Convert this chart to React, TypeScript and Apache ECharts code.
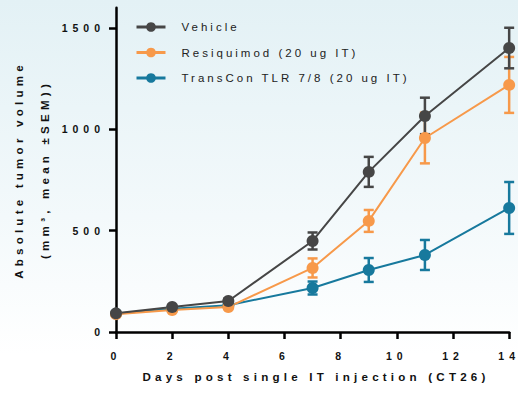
import React, { useEffect, useRef } from "react";
import * as echarts from "echarts";

const days = [0, 2, 4, 7, 9, 11, 14];
const vehicleMean = [92, 123, 153, 449, 790, 1066, 1401];
const vehicleSem = [8, 10, 12, 42, 74, 90, 100];
const resiquimodMean = [88, 108, 123, 316, 548, 957, 1219];
const resiquimodSem = [6, 8, 10, 47, 54, 125, 138];
const transconMean = [90, 115, 132, 217, 306, 380, 612];
const transconSem = [6, 8, 10, 32, 59, 74, 128];
const yTicks = [0, 500, 1000, 1500];
const seriesNames = ["Vehicle", "Resiquimod (20 ug IT)", "TransCon TLR 7/8 (20 ug IT)"];
const xTitle = "Days post single IT injection (CT26)";
const yTitle1 = "Absolute tumor volume";
const yTitle2 = "(mm³, mean ±SEM))";

const colors = ["#464646", "#F7994A", "#17799D"];

function errSeries(id: string, mean: number[], sem: number[], color: string) {
  return {
    type: "custom",
    name: id,
    silent: true,
    data: days.map((d, i) => [d, mean[i] - sem[i], mean[i] + sem[i]]),
    encode: { x: 0, y: [1, 2] },
    renderItem: (params: any, api: any) => {
      const x = api.value(0);
      const p1 = api.coord([x, api.value(1)]);
      const p2 = api.coord([x, api.value(2)]);
      const hw = 5;
      const style = { stroke: color, lineWidth: 2.5, fill: "none" };
      return {
        type: "group",
        children: [
          { type: "line", shape: { x1: p1[0], y1: p1[1], x2: p2[0], y2: p2[1] }, style },
          { type: "line", shape: { x1: p1[0] - hw, y1: p1[1], x2: p1[0] + hw, y2: p1[1] }, style },
          { type: "line", shape: { x1: p2[0] - hw, y1: p2[1], x2: p2[0] + hw, y2: p2[1] }, style },
        ],
      };
    },
  };
}

function lineSeries(name: string, mean: number[], color: string) {
  return {
    type: "line",
    name,
    data: days.map((d, i) => [d, mean[i]]),
    symbol: "circle",
    symbolSize: 12,
    showSymbol: true,
    lineStyle: { color, width: 2 },
    itemStyle: { color },
    emphasis: { disabled: true },
  };
}

export default function App() {
  const ref = useRef<HTMLDivElement>(null);
  useEffect(() => {
    if (!ref.current) return;
    const chart = echarts.init(ref.current, undefined, { renderer: "svg" });
    const axisCommon = {
      axisLine: { show: true, lineStyle: { color: "#000", width: 2.5 } },
      axisTick: { show: true, length: 7, lineStyle: { color: "#000", width: 2.5 } },
      splitLine: { show: false },
    };
    chart.setOption({
      animation: false,
      backgroundColor: "transparent",
      grid: { left: 116, right: 8, top: 7.7, bottom: 62, containLabel: false },
      legend: {
        data: seriesNames,
        orient: "vertical",
        left: 135,
        top: 20.5,
        padding: 0,
        itemWidth: 29,
        itemHeight: 12,
        itemGap: 12.5,
        selectedMode: false,
        lineStyle: { width: 3 },
        textStyle: {
          fontFamily: "Liberation Sans",
          fontSize: 11.5,
          color: "#222",
          lineHeight: 13,
          padding: [0, 0, 0, 11],
        },
      },
      xAxis: {
        type: "value",
        min: 0,
        max: 14,
        interval: 2,
        ...axisCommon,
        axisLabel: {
          margin: 18,
          fontFamily: "Liberation Sans",
          fontWeight: "bold",
          fontSize: 10.5,
          color: "#111",
          formatter: (v: number) => String(v),
        },
      },
      yAxis: {
        type: "value",
        min: 0,
        max: 1600,
        interval: 500,
        ...axisCommon,
        axisTick: { ...axisCommon.axisTick, customValues: yTicks },
        axisLabel: {
          margin: 11,
          customValues: yTicks,
          fontFamily: "Liberation Sans",
          fontWeight: "bold",
          fontSize: 10.5,
          color: "#111",
          formatter: (v: number) => String(v),
        },
      },
      graphic: [
        {
          type: "text",
          x: 316,
          y: 376,
          style: {
            text: xTitle,
            fontFamily: "Liberation Sans",
            fontWeight: "bold",
            fontSize: 11.6,
            fill: "#111",
            textAlign: "center",
            textVerticalAlign: "middle",
          },
        },
        {
          type: "text",
          x: 18,
          y: 170,
          rotation: Math.PI / 2,
          style: {
            text: yTitle1,
            fontFamily: "Liberation Sans",
            fontWeight: "bold",
            fontSize: 11.6,
            fill: "#111",
            textAlign: "center",
            textVerticalAlign: "middle",
          },
        },
        {
          type: "text",
          x: 44,
          y: 169.5,
          rotation: Math.PI / 2,
          style: {
            text: yTitle2,
            fontFamily: "Liberation Sans",
            fontWeight: "bold",
            fontSize: 11.6,
            fill: "#111",
            textAlign: "center",
            textVerticalAlign: "middle",
          },
        },
      ],
      series: [
        errSeries("errT", transconMean, transconSem, colors[2]),
        lineSeries(seriesNames[2], transconMean, colors[2]),
        errSeries("errR", resiquimodMean, resiquimodSem, colors[1]),
        lineSeries(seriesNames[1], resiquimodMean, colors[1]),
        errSeries("errV", vehicleMean, vehicleSem, colors[0]),
        lineSeries(seriesNames[0], vehicleMean, colors[0]),
      ],
    });
    return () => chart.dispose();
  }, []);
  return (
    <div
      className="chartwrap"
      style={{
        position: "absolute",
        left: 0,
        top: 0,
        width: 518,
        height: 394,
        background: "linear-gradient(180deg, #e3f1f5 0%, #f3f9fb 55%, #ffffff 90%)",
      }}
    >
      <style>{`
        .chartwrap text[style*="10.5px"] { letter-spacing: 5px; }
        .chartwrap text[style*="11.5px"] { letter-spacing: 3px; }
        .chartwrap text[style*="11.6px"] { letter-spacing: 4.2px; }
      `}</style>
      <div ref={ref} style={{ width: 518, height: 394 }} />
    </div>
  );
}
